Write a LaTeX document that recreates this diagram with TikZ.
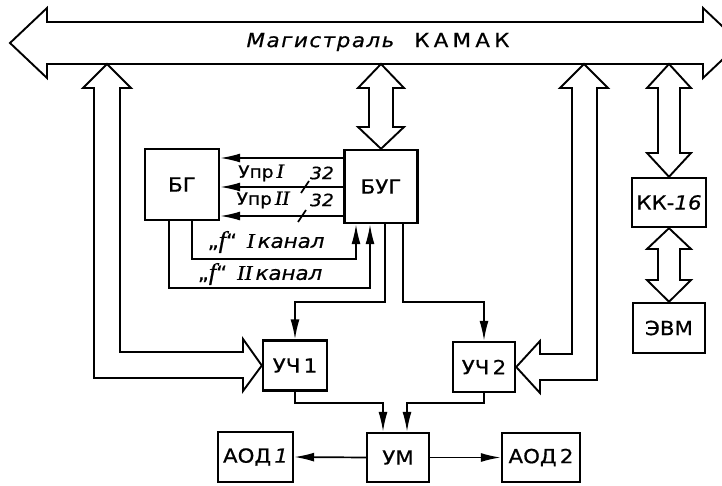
\documentclass[tikz,border=0pt]{standalone}
\usepackage{fontspec}
\setmainfont{DejaVu Sans}[FakeStretch=1.1, FakeBold=0.6]
\newfontfamily\serifit{Liberation Serif}[FakeStretch=1.1, FakeBold=0.6]
\usetikzlibrary{arrows.meta, calc}
\newcommand{\romnum}[1]{{\serifit\itshape #1}}

\begin{document}
\begin{tikzpicture}[
    x=1bp, y=-1bp,
    box/.style={draw, rectangle, line width=2.4bp, inner sep=0pt, fill=white},
    wide/.style={draw, line width=1.9bp, fill=white, line join=miter},
    sig/.style={line width=1.7bp},
    sigarr/.style={sig, -{Latex[length=20bp, width=9bp]}},
    lbl/.style={font=\fontsize{17}{19}\selectfont},
    every node/.style={font=\fontsize{19.5}{21}\selectfont}
]
    \useasboundingbox (0,0) rectangle (722,486);
    \clip (0,0) rectangle (722,486);

    % ===============================
    % 1. BUS
    % ===============================
    \draw[wide] (10,43) -- (47,8) -- (47,22) -- (703,22) -- (703,8) -- (740,43) -- (703,78) -- (703,64) -- (47,64) -- (47,78) -- cycle;
    \node (bus) at (378,42) {{\addfontfeatures{LetterSpace=8}\itshape Магистраль}\hspace{20bp}{\addfontfeatures{LetterSpace=22}КАМАК}};

    \coordinate (busA) at (107,64);
    \coordinate (busB) at (381,64);
    \coordinate (busC) at (584,64);
    \coordinate (busD) at (669,64);

    % ===============================
    % 2. BLOCKS
    % ===============================
    \node[box, minimum width=74bp, minimum height=71bp] (bg) at (182,184.5) {БГ};
    \node[box, minimum width=73bp, minimum height=73bp] (bug) at (381,186.5) {БУГ};
    \node[box, minimum width=64bp, minimum height=50bp] (uch1) at (295,365.5) {УЧ\,1};
    \node[box, minimum width=62bp, minimum height=50bp] (uch2) at (484,367) {УЧ\,2};
    \node[box, minimum width=62bp, minimum height=49bp] (um) at (398,457.5) {УМ};
    \node[box, minimum width=75bp, minimum height=50bp] (aod1) at (255.5,457) {АОД\,\textit{1}};
    \node[box, minimum width=78bp, minimum height=49bp] (aod2) at (541,457.5) {АОД\,2};
    \node[box, minimum width=74bp, minimum height=49bp] (kk) at (669,202.5) {КК-\textit{16}};
    \node[box, minimum width=72bp, minimum height=50bp] (evm) at (669,328) {ЭВМ};

    % ===============================
    % 3. WIDE ARROWS
    % ===============================
    % bus <-> УЧ1
    \draw[wide] (busA) -- (131,88) -- (120,88) -- (120,352) -- (243,352) -- (243,339) -- (uch1.west) -- (243,391) -- (243,378) -- (94,378) -- (94,88) -- (83,88) -- cycle;
    % bus <-> БУГ
    \draw[wide] (busB) -- (404,88) -- (393,88) -- (393,127) -- (404,127) -- (bug.north) -- (358,127) -- (369,127) -- (369,88) -- (358,88) -- cycle;
    % bus <-> УЧ2
    \draw[wide] (busC) -- (608,88) -- (597,88) -- (597,380) -- (540,380) -- (540,393) -- (uch2.east) -- (540,341) -- (540,354) -- (572,354) -- (572,88) -- (560,88) -- cycle;
    % bus <-> КК-16 <-> ЭВМ
    \draw[wide] (busD) -- (691,88) -- (680,88) -- (680,153) -- (691,153) -- (kk.north) -- (647,153) -- (658,153) -- (658,88) -- (647,88) -- cycle;
    \draw[wide] (kk.south) -- (691,249) -- (680,249) -- (680,280) -- (691,280) -- (evm.north) -- (647,280) -- (658,280) -- (658,249) -- (647,249) -- cycle;

    % ===============================
    % 4. SIGNAL LINES
    % ===============================
    % БУГ -> БГ control
    \draw[sigarr] (bug.west |- 0,158) -- (bg.east |- 0,158);
    \draw[sigarr] (bug.west |- 0,187) -- (bg.east |- 0,187);
    \draw[sigarr] (bug.west |- 0,216) -- (bg.east |- 0,216);
    \node[lbl] (upr1) at (261,173) {Упр\,\romnum{\fontsize{20}{20}\selectfont I}};
    \node[lbl] (w1) at (322,173) {\textit{32}};
    \node[lbl] (upr2) at (263,200) {Упр\,\romnum{\fontsize{20}{20}\selectfont II}};
    \node[lbl] (w2) at (322,200) {\textit{32}};
    \draw[sig] (301,193) -- (309,181);
    \draw[sig] (298,222) -- (306,210);

    % БГ -> БУГ frequency
    \draw[sigarr] (bg.south -| 192,0) |- (356,259) -- (bug.south -| 356,0);
    \draw[sigarr] (bg.south -| 169,0) |- (370,288) -- (bug.south -| 370,0);
    \node (f1) at (266,242) {„\romnum{\fontsize{24}{24}\selectfont f}“\enspace\romnum{\fontsize{21}{21}\selectfont I}\thinspace\textit{канал}};
    \node (f2) at (260,274) {„\romnum{\fontsize{24}{24}\selectfont f}“\enspace\romnum{\fontsize{21}{21}\selectfont II}\thinspace\textit{канал}};

    % БУГ -> УЧ1, УЧ2
    \draw[sigarr] (bug.south -| 385,0) |- (uch1.north |- 0,302) -- (uch1.north);
    \draw[sigarr] (bug.south -| 403,0) |- (uch2.north |- 0,302) -- (uch2.north);

    % УЧ1, УЧ2 -> УМ
    \draw[sigarr] (uch1.south) |- (383,403) -- (um.north -| 383,0);
    \draw[sigarr] (uch2.south) |- (407,403) -- (um.north -| 407,0);

    % УМ -> АОД
    \draw[sigarr] (um.west) -- (aod1.east);
    \draw[sigarr] (um.east) -- (aod2.west);

\end{tikzpicture}
\end{document}
